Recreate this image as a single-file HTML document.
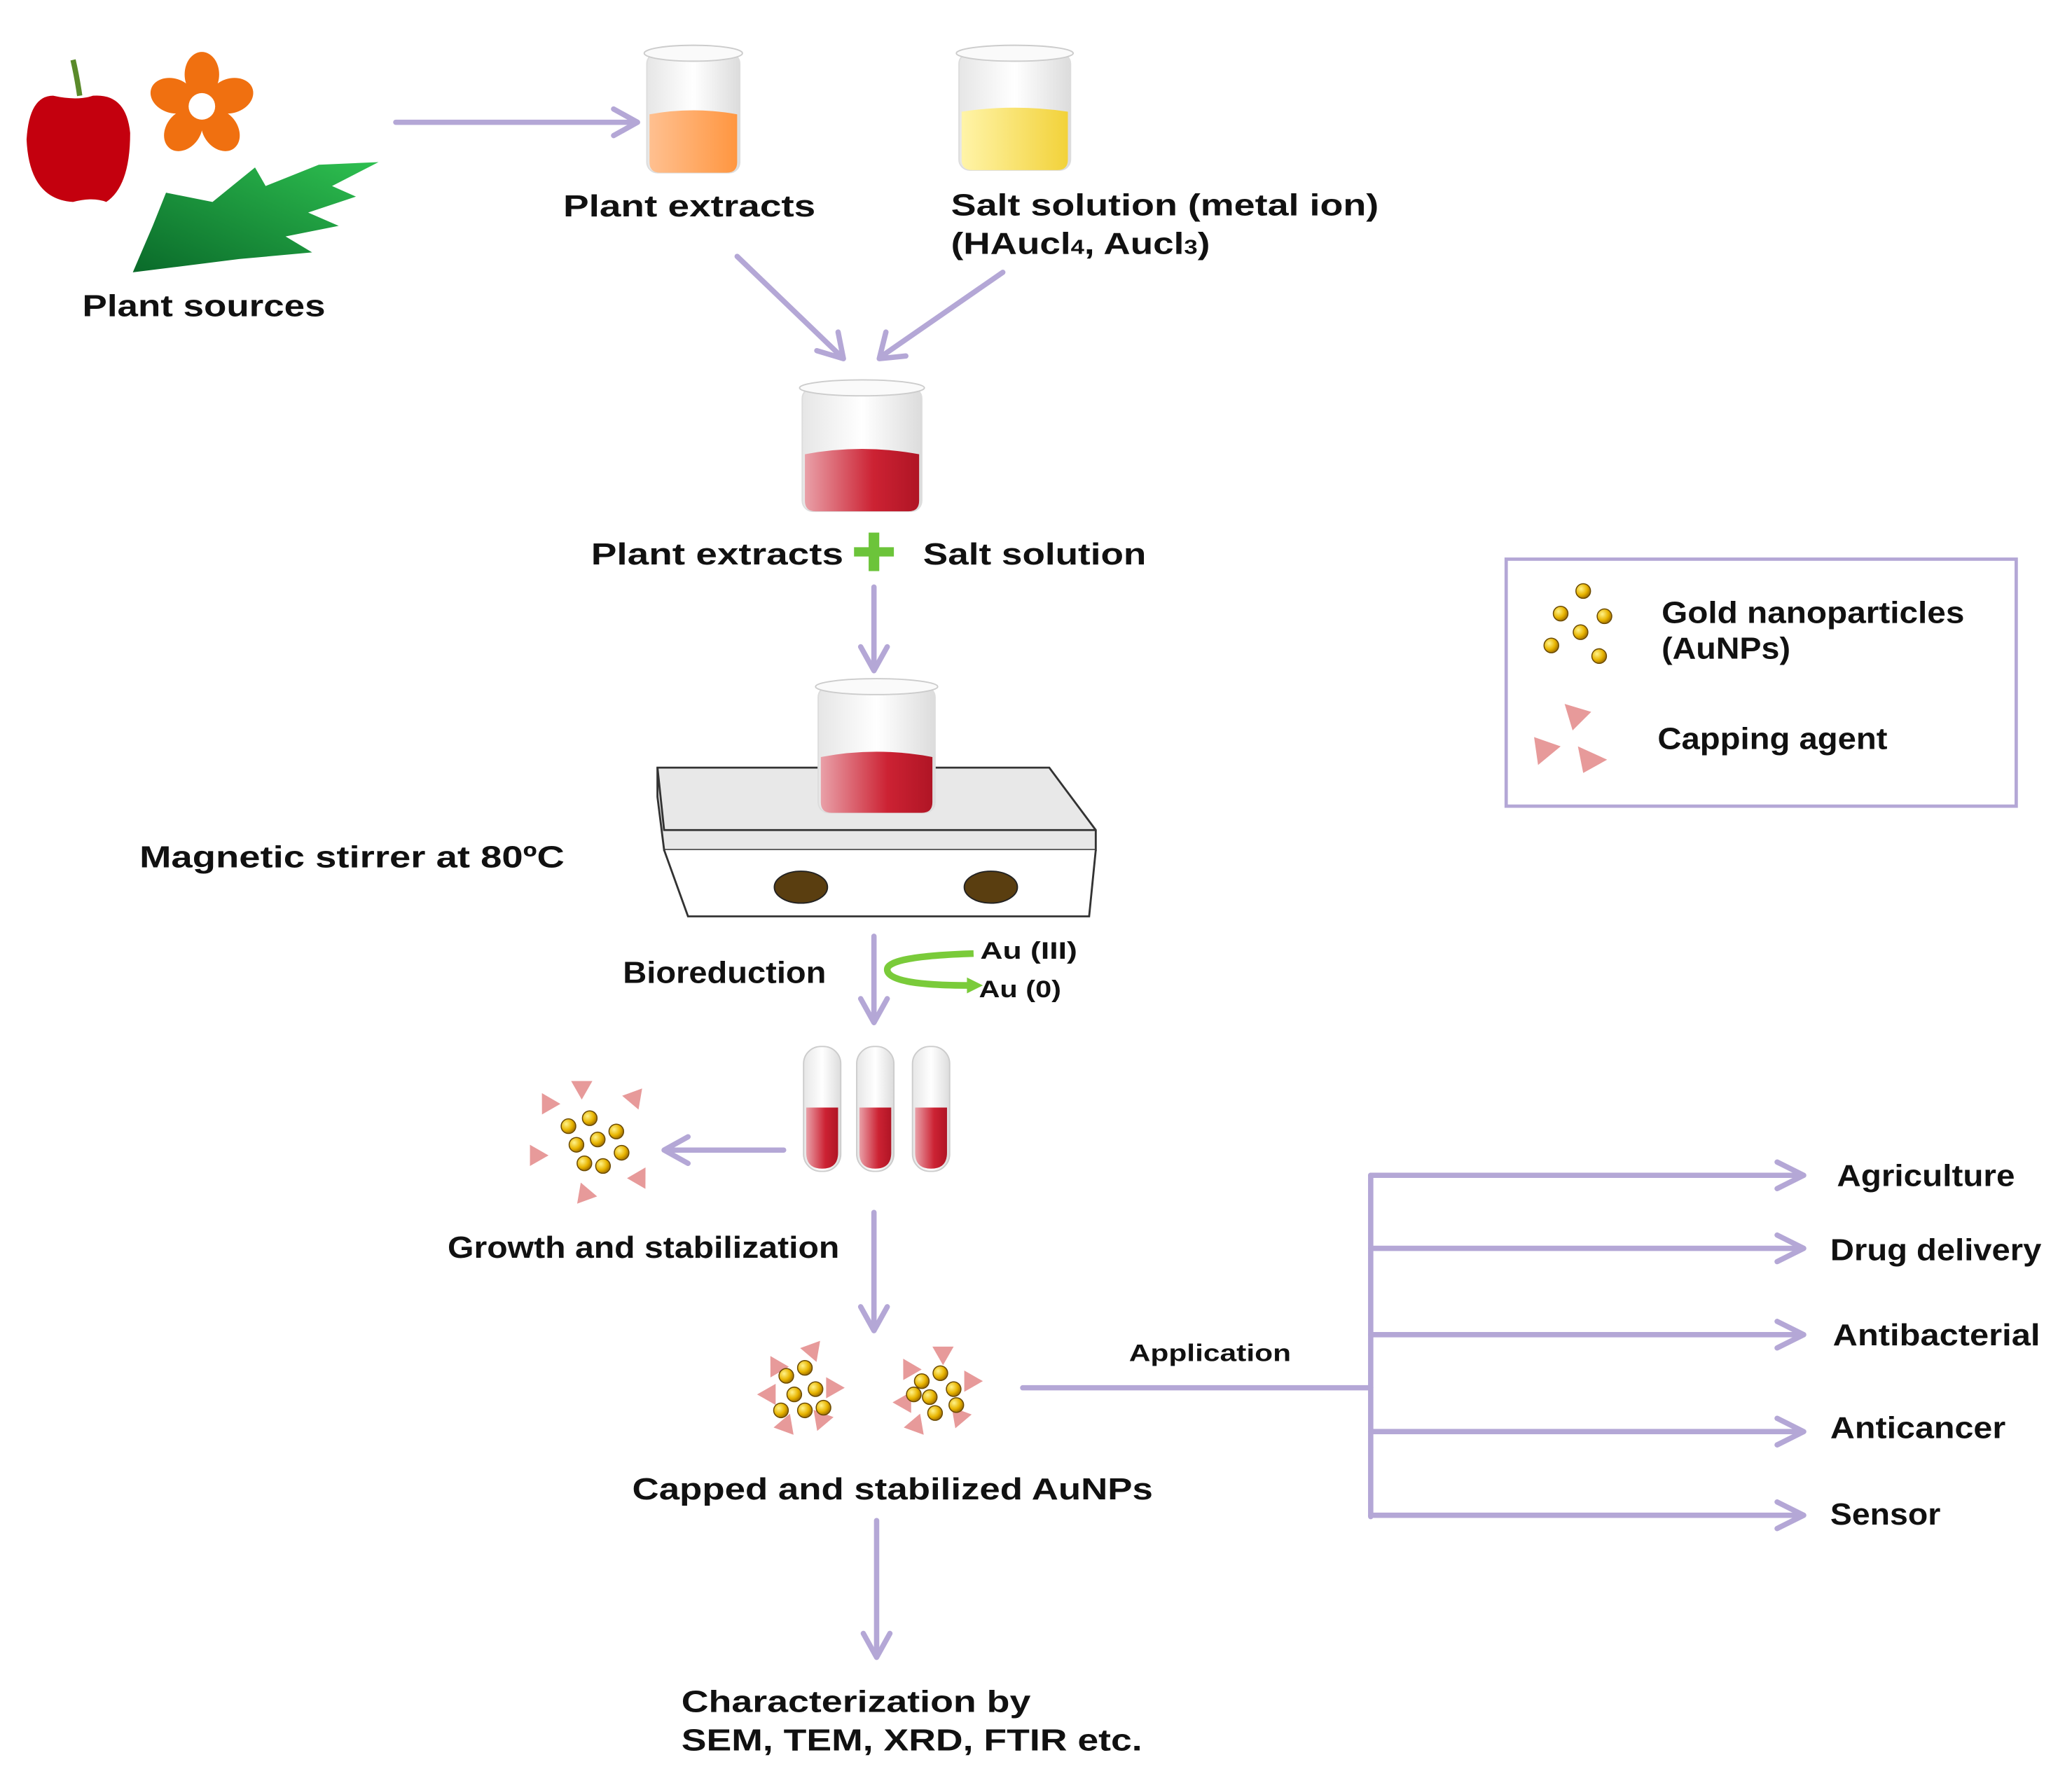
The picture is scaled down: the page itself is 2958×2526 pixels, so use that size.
<!DOCTYPE html>
<html><head><meta charset="utf-8"><style>
html,body{margin:0;padding:0;background:#fff}
svg{display:block}
text{font-family:"Liberation Sans",Arial,sans-serif;font-weight:bold;fill:#111}
</style></head><body>
<svg width="2958" height="2526" viewBox="0 0 1560 1332" xmlns="http://www.w3.org/2000/svg">
<defs>
<radialGradient id="gold" cx="0.35" cy="0.35" r="0.7"><stop offset="0" stop-color="#fff38a"/><stop offset="0.6" stop-color="#e8b400"/><stop offset="1" stop-color="#9a6a00"/></radialGradient>
<linearGradient id="glass" x1="0" x2="1"><stop offset="0" stop-color="#e6e6e6"/><stop offset="0.5" stop-color="#fff"/><stop offset="1" stop-color="#dcdcdc"/></linearGradient>
<linearGradient id="red" x1="0" x2="1"><stop offset="0" stop-color="#e9a0a8"/><stop offset="0.6" stop-color="#cc2233"/><stop offset="1" stop-color="#b01525"/></linearGradient>
<linearGradient id="orange" x1="0" x2="1"><stop offset="0" stop-color="#ffc090"/><stop offset="1" stop-color="#ff9640"/></linearGradient>
<linearGradient id="yellow" x1="0" x2="1"><stop offset="0" stop-color="#fff4a8"/><stop offset="1" stop-color="#f2d23a"/></linearGradient>
<linearGradient id="leaf" x1="0" y1="1" x2="1" y2="0"><stop offset="0" stop-color="#0a6a2a"/><stop offset="1" stop-color="#2ec050"/></linearGradient>
<g id="dot"><circle r="5.5" fill="url(#gold)" stroke="#6b4a00" stroke-width="0.8"/></g>
<g id="tri"><polygon points="0,-8 8,6 -8,6" fill="#e79a9a"/></g>
</defs>
<g stroke="#b4a7d6" stroke-width="4" fill="none" stroke-linecap="round" stroke-linejoin="round">
<line x1="298" y1="92" x2="478" y2="92"/><polyline points="462,82 480,92 462,102"/>
<line x1="555" y1="193" x2="633" y2="268"/><polyline points="615,264 635,270 631,250"/>
<line x1="755" y1="205" x2="664" y2="268"/><polyline points="667,250 662,270 682,268"/>
<line x1="658" y1="442" x2="658" y2="503"/><polyline points="648,487 658,505 668,487"/>
<line x1="658" y1="705" x2="658" y2="768"/><polyline points="648,752 658,770 668,752"/>
<line x1="590" y1="866" x2="502" y2="866"/><polyline points="518,856 500,866 518,876"/>
<line x1="658" y1="913" x2="658" y2="1000"/><polyline points="648,984 658,1002 668,984"/>
<line x1="660" y1="1145" x2="660" y2="1246"/><polyline points="650,1230 660,1248 670,1230"/>
<line x1="770" y1="1045" x2="1032" y2="1045"/>
<line x1="1032" y1="885" x2="1032" y2="1142"/>
<line x1="1032" y1="885" x2="1356" y2="885"/><polyline points="1338,875 1358,885 1338,895"/>
<line x1="1032" y1="940" x2="1356" y2="940"/><polyline points="1338,930 1358,940 1338,950"/>
<line x1="1032" y1="1005" x2="1356" y2="1005"/><polyline points="1338,995 1358,1005 1338,1015"/>
<line x1="1032" y1="1078" x2="1356" y2="1078"/><polyline points="1338,1068 1358,1078 1338,1088"/>
<line x1="1032" y1="1141" x2="1356" y2="1141"/><polyline points="1338,1131 1358,1141 1338,1151"/>
</g>
<!-- plant sources -->
<path d="M55,45 Q58,58 60,72" stroke="#5a8a2a" stroke-width="4" fill="none"/>
<path d="M40,72 Q22,72 20,105 Q22,150 55,152 Q70,148 80,152 Q98,140 98,100 Q95,70 70,72 Q58,76 40,72Z" fill="#c4000e"/>
<g fill="#f07010">
<ellipse cx="152" cy="56" rx="13" ry="17"/>
<ellipse cx="174" cy="72" rx="13" ry="17" transform="rotate(72 174 72)"/>
<ellipse cx="166" cy="98" rx="13" ry="17" transform="rotate(144 166 98)"/>
<ellipse cx="138" cy="98" rx="13" ry="17" transform="rotate(216 138 98)"/>
<ellipse cx="130" cy="72" rx="13" ry="17" transform="rotate(288 130 72)"/>
<circle cx="152" cy="80" r="14"/>
</g>
<circle cx="152" cy="80" r="10" fill="#fff"/>
<path d="M100,205 L115,170 L125,145 L160,152 L192,126 L200,140 L240,124 L285,122 L250,140 L268,148 L232,160 L255,170 L215,178 L235,190 L180,195 Z" fill="url(#leaf)"/>
<!-- beakers -->
<g>
<rect x="487" y="40" width="70" height="90" rx="8" fill="url(#glass)" stroke="#ddd"/>
<ellipse cx="522" cy="40" rx="37" ry="6" fill="#fafafa" stroke="#ccc"/>
<path d="M489,86 Q522,80 555,86 L555,122 Q555,130 547,130 L497,130 Q489,130 489,122Z" fill="url(#orange)"/>
<rect x="722" y="40" width="84" height="88" rx="8" fill="url(#glass)" stroke="#ddd"/>
<ellipse cx="764" cy="40" rx="44" ry="6" fill="#fafafa" stroke="#ccc"/>
<path d="M724,84 Q764,78 804,84 L804,120 Q804,128 796,128 L732,128 Q724,128 724,120Z" fill="url(#yellow)"/>
<rect x="604" y="292" width="90" height="93" rx="8" fill="url(#glass)" stroke="#ddd"/>
<ellipse cx="649" cy="292" rx="47" ry="6" fill="#fafafa" stroke="#ccc"/>
<path d="M606,342 Q649,334 692,342 L692,377 Q692,385 684,385 L614,385 Q606,385 606,377Z" fill="url(#red)"/>
</g>
<!-- hot plate -->
<path d="M495,578 L790,578 L825,625 L825,640 L500,640 L495,600Z" fill="#e8e8e8" stroke="#333" stroke-width="1.5"/>
<path d="M495,578 L500,625 L825,625" fill="none" stroke="#333" stroke-width="1.5"/>
<path d="M500,640 L518,690 L820,690 L825,640" fill="#fff" stroke="#333" stroke-width="1.5"/>
<ellipse cx="603" cy="668" rx="20" ry="12" fill="#5a3e10" stroke="#222"/>
<ellipse cx="746" cy="668" rx="20" ry="12" fill="#5a3e10" stroke="#222"/>
<rect x="616" y="517" width="88" height="95" rx="8" fill="url(#glass)" stroke="#ddd"/>
<ellipse cx="660" cy="517" rx="46" ry="6" fill="#fafafa" stroke="#ccc"/>
<path d="M618,570 Q660,562 702,570 L702,604 Q702,612 694,612 L626,612 Q618,612 618,604Z" fill="url(#red)"/>
<!-- green curve -->
<path d="M733,718 Q668,720 668,730 Q668,742 730,742" fill="none" stroke="#7acb3a" stroke-width="5"/>
<polygon points="728,736 740,742 728,748" fill="#7acb3a"/>
<!-- test tubes -->
<g>
<rect x="605" y="788" width="28" height="94" rx="13" fill="url(#glass)" stroke="#ccc"/>
<path d="M607,834 L631,834 L631,868 Q631,880 619,880 Q607,880 607,868Z" fill="url(#red)"/>
<rect x="645" y="788" width="28" height="94" rx="13" fill="url(#glass)" stroke="#ccc"/>
<path d="M647,834 L671,834 L671,868 Q671,880 659,880 Q647,880 647,868Z" fill="url(#red)"/>
<rect x="687" y="788" width="28" height="94" rx="13" fill="url(#glass)" stroke="#ccc"/>
<path d="M689,834 L713,834 L713,868 Q713,880 701,880 Q689,880 689,868Z" fill="url(#red)"/>
</g>
<!-- growth cluster -->
<g>
<use href="#tri" transform="translate(412,830) rotate(-30)"/><use href="#tri" transform="translate(438,820) rotate(180)"/>
<use href="#tri" transform="translate(478,828) rotate(160)"/><use href="#tri" transform="translate(405,870) rotate(90)"/>
<use href="#tri" transform="translate(482,886) rotate(30)"/><use href="#tri" transform="translate(440,898) rotate(-20)"/>
<use href="#dot" x="428" y="848"/><use href="#dot" x="444" y="842"/><use href="#dot" x="464" y="852"/>
<use href="#dot" x="434" y="862"/><use href="#dot" x="450" y="858"/><use href="#dot" x="468" y="868"/>
<use href="#dot" x="440" y="876"/><use href="#dot" x="454" y="878"/>
</g>
<!-- capped clusters -->
<g>
<use href="#tri" transform="translate(584,1028) rotate(-30)"/><use href="#tri" transform="translate(612,1018) rotate(160)"/>
<use href="#tri" transform="translate(628,1045) rotate(90)"/><use href="#tri" transform="translate(578,1050) rotate(-90)"/>
<use href="#tri" transform="translate(592,1072) rotate(20)"/><use href="#tri" transform="translate(618,1070) rotate(200)"/>
<use href="#dot" x="592" y="1036"/><use href="#dot" x="606" y="1030"/><use href="#dot" x="614" y="1046"/>
<use href="#dot" x="598" y="1050"/><use href="#dot" x="588" y="1062"/><use href="#dot" x="606" y="1062"/><use href="#dot" x="620" y="1060"/>
<use href="#tri" transform="translate(684,1030) rotate(-30)"/><use href="#tri" transform="translate(710,1020) rotate(180)"/>
<use href="#tri" transform="translate(732,1040) rotate(90)"/><use href="#tri" transform="translate(680,1056) rotate(-90)"/>
<use href="#tri" transform="translate(690,1072) rotate(20)"/><use href="#tri" transform="translate(722,1068) rotate(200)"/>
<use href="#dot" x="694" y="1040"/><use href="#dot" x="708" y="1034"/><use href="#dot" x="718" y="1046"/>
<use href="#dot" x="700" y="1052"/><use href="#dot" x="688" y="1050"/><use href="#dot" x="704" y="1064"/><use href="#dot" x="720" y="1058"/>
</g>
<!-- legend -->
<rect x="1134" y="421" width="384" height="186" fill="#fff" stroke="#b4a7d6" stroke-width="2.5"/>
<use href="#dot" x="1192" y="445"/><use href="#dot" x="1175" y="462"/><use href="#dot" x="1208" y="464"/>
<use href="#dot" x="1190" y="476"/><use href="#dot" x="1168" y="486"/><use href="#dot" x="1204" y="494"/>
<polygon points="1178,530 1198,536 1184,550" fill="#e79a9a"/>
<polygon points="1155,555 1175,562 1158,576" fill="#e79a9a"/>
<polygon points="1188,562 1210,572 1192,582" fill="#e79a9a"/>
<!-- text -->
<g font-size="23" lengthAdjust="spacingAndGlyphs">
<text x="62" y="238" textLength="183" lengthAdjust="spacingAndGlyphs">Plant sources</text>
<text x="424" y="163" textLength="190" lengthAdjust="spacingAndGlyphs">Plant extracts</text>
<text x="716" y="162" textLength="322" lengthAdjust="spacingAndGlyphs">Salt solution (metal ion)</text>
<text x="716" y="191" textLength="195" lengthAdjust="spacingAndGlyphs">(HAucl<tspan font-size="15">4</tspan>, Aucl<tspan font-size="15">3</tspan>)</text>
<text x="445" y="425" textLength="190" lengthAdjust="spacingAndGlyphs">Plant extracts</text>
<text x="695" y="425" textLength="168" lengthAdjust="spacingAndGlyphs">Salt solution</text>
<text x="105" y="653" textLength="320" lengthAdjust="spacingAndGlyphs">Magnetic stirrer at 80ºC</text>
<text x="469" y="740" textLength="153" lengthAdjust="spacingAndGlyphs">Bioreduction</text>
<text x="337" y="947" textLength="295" lengthAdjust="spacingAndGlyphs">Growth and stabilization</text>
<text x="476" y="1129" textLength="392" lengthAdjust="spacingAndGlyphs">Capped and stabilized AuNPs</text>
<text x="513" y="1289" textLength="263" lengthAdjust="spacingAndGlyphs">Characterization by</text>
<text x="513" y="1318" textLength="347" lengthAdjust="spacingAndGlyphs">SEM, TEM, XRD, FTIR etc.</text>
<text x="1383" y="893" textLength="134" lengthAdjust="spacingAndGlyphs">Agriculture</text>
<text x="1378" y="949" textLength="159" lengthAdjust="spacingAndGlyphs">Drug delivery</text>
<text x="1380" y="1013" textLength="156" lengthAdjust="spacingAndGlyphs">Antibacterial</text>
<text x="1378" y="1083" textLength="132" lengthAdjust="spacingAndGlyphs">Anticancer</text>
<text x="1378" y="1148" textLength="83" lengthAdjust="spacingAndGlyphs">Sensor</text>
<text x="1251" y="469" textLength="228" lengthAdjust="spacingAndGlyphs">Gold nanoparticles</text>
<text x="1251" y="496" textLength="97" lengthAdjust="spacingAndGlyphs">(AuNPs)</text>
<text x="1248" y="564" textLength="173" lengthAdjust="spacingAndGlyphs">Capping agent</text>
</g>
<g font-size="18">
<text x="738" y="722" textLength="73" lengthAdjust="spacingAndGlyphs">Au (III)</text>
<text x="737" y="751" textLength="62" lengthAdjust="spacingAndGlyphs">Au (0)</text>
<text x="850" y="1025" textLength="122" lengthAdjust="spacingAndGlyphs">Application</text>
</g>
<g fill="#6cc43a"><rect x="643" y="412" width="30" height="7"/><rect x="654" y="401" width="8" height="29"/></g>
</svg>
</body></html>
